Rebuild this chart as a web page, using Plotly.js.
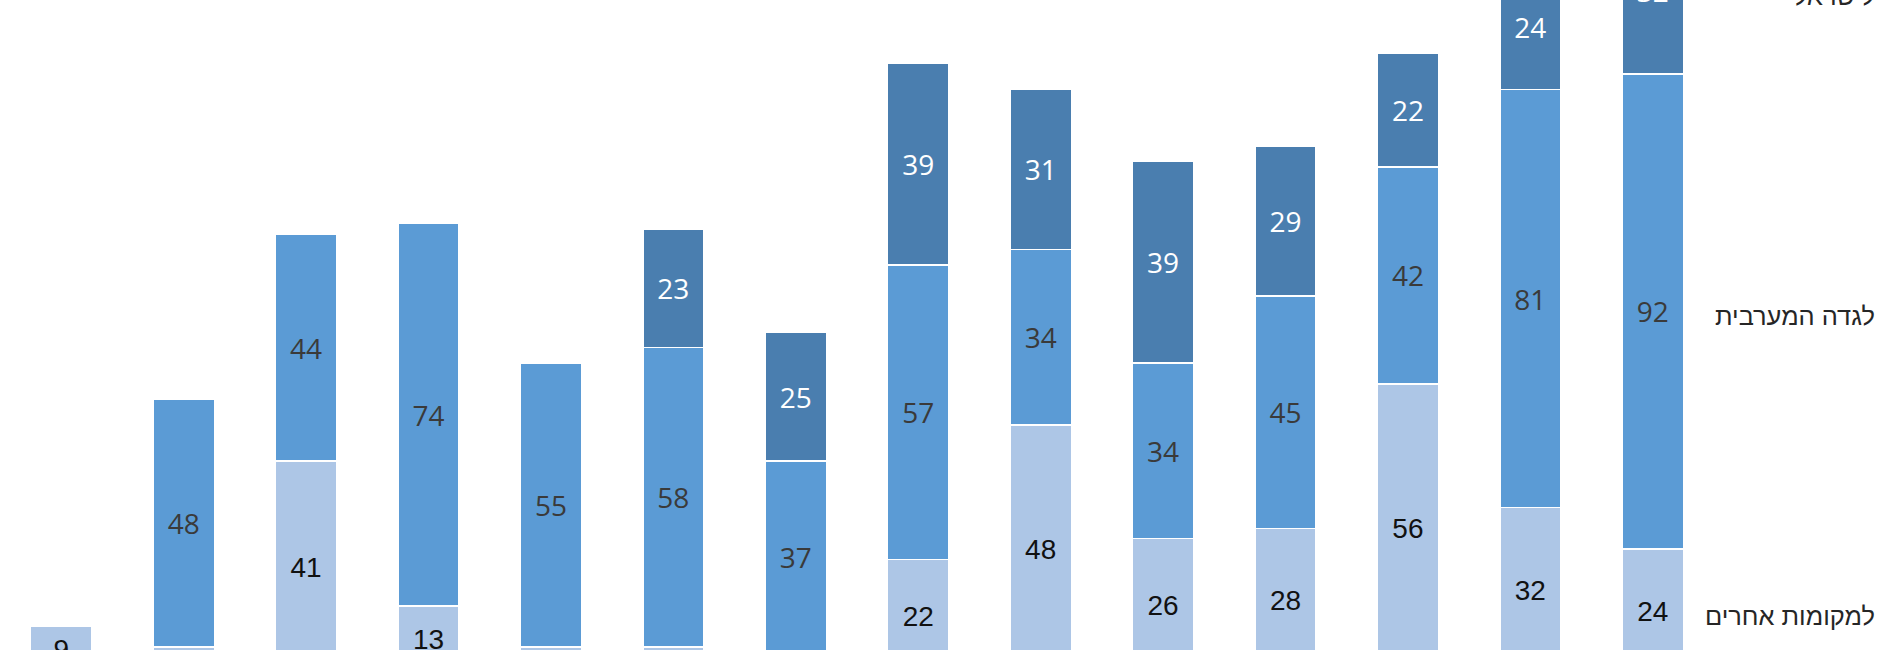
<!DOCTYPE html>
<html>
<head>
<meta charset="utf-8">
<script src="https://cdn.plot.ly/plotly-3.0.1.min.js"></script>
<style>
  html, body { margin: 0; padding: 0; background: #ffffff; }
  #chart { width: 1900px; height: 650px; }
</style>
</head>
<body>
<div id="chart"></div>
<script>
// Categories (the axis labels are cropped out of the reference)
const categories = ["1", "2", "3", "4", "5", "6", "7", "8", "9", "10", "11", "12", "13", "14"];

// Series values (bottom to top of each stack)
const otherPlaces = [9, 5, 41, 13, 5, 5, 4, 22, 48, 26, 28, 56, 32, 24];          // למקומות אחרים
const westBank    = [null, 48, 44, 74, 55, 58, 37, 57, 34, 34, 45, 42, 81, 92];   // לגדה המערבית
const israel      = [null, null, null, null, null, 23, 25, 39, 31, 39, 29, 22, 24, 32]; // לישראל

// Series names (shown as labels beside the last bar)
const seriesNames = ["למקומות אחרים", "לגדה המערבית", "לישראל"];

const colors = { light: "#ADC6E6", mid: "#5B9BD5", dark: "#4A7EAF" };
const yRange = [4.45, 130.3];

function txt(arr) { return arr.map(v => (v === null ? "" : String(v))); }

const common = {
  type: "bar",
  x: categories,
  textposition: "inside",
  insidetextanchor: "middle",
  textangle: 0,
  cliponaxis: true,
  hoverinfo: "skip",
  showlegend: false
};

const traces = [
  Object.assign({}, common, {
    name: seriesNames[0], y: otherPlaces, text: txt(otherPlaces),
    marker: { color: colors.light, line: { color: "#ffffff", width: 1.5 } },
    textfont: { family: "Liberation Sans, Arial, sans-serif", size: 28, color: "#111111" }
  }),
  Object.assign({}, common, {
    name: seriesNames[1], y: westBank, text: txt(westBank),
    marker: { color: colors.mid, line: { color: "#ffffff", width: 1.5 } },
    textfont: { family: "Open Sans, sans-serif", size: 28, color: "#3a3a3a" }
  }),
  Object.assign({}, common, {
    name: seriesNames[2], y: israel, text: txt(israel),
    marker: { color: colors.dark, line: { color: "#ffffff", width: 1.5 } },
    textfont: { family: "Open Sans, sans-serif", size: 28, color: "#ffffff" }
  })
];

// Labels placed at the middle of each segment of the last bar
const last = categories.length - 1;
const seriesArrays = [otherPlaces, westBank, israel];
const annotations = [];
let cum = 0;
seriesArrays.forEach((arr, i) => {
  const v = arr[last] || 0;
  const mid = cum + v / 2;
  cum += v;
  annotations.push({
    xref: "paper", yref: "paper",
    x: 1.0952, xanchor: "right",
    y: (mid - yRange[0]) / (yRange[1] - yRange[0]), yanchor: "middle",
    yshift: -5,
    text: seriesNames[i],
    showarrow: false,
    font: { family: "Liberation Sans, Arial, sans-serif", size: 25.4, color: "#262626" }
  });
});

const layout = {
  width: 1900,
  height: 650,
  margin: { l: 0, r: 186, t: 0, b: 0, pad: 0 },
  paper_bgcolor: "#ffffff",
  plot_bgcolor: "#ffffff",
  barmode: "stack",
  bargap: 0.5,
  uniformtext: { mode: "hide", minsize: 28 },
  xaxis: {
    type: "category",
    range: [-0.5, 13.5],
    showgrid: false, zeroline: false, showline: false,
    showticklabels: false, ticks: ""
  },
  yaxis: {
    range: yRange,
    visible: false, showgrid: false, zeroline: false
  },
  annotations: annotations
};

Plotly.newPlot("chart", traces, layout, { staticPlot: true, displayModeBar: false });
</script>
</body>
</html>
